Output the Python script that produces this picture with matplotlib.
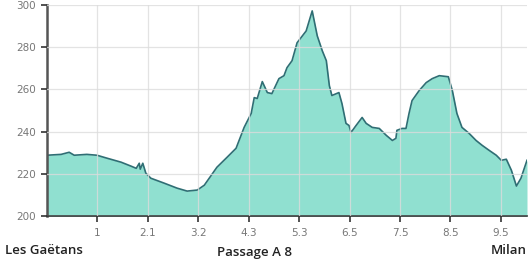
import matplotlib
matplotlib.use("Agg")
import matplotlib.pyplot as plt

# profile: x in tick units (0..9.5), elevation in m
pos = [0.00, 0.28, 0.44, 0.54, 0.79, 0.99, 1.19, 1.47, 1.67, 1.77, 1.83, 1.85,
       1.90, 1.96, 2.06, 2.32, 2.58, 2.78, 2.98, 3.12, 3.37, 3.57, 3.75, 3.91,
       4.05, 4.11, 4.17, 4.27, 4.37, 4.46, 4.60, 4.70, 4.76, 4.86, 4.96, 5.14,
       5.26, 5.36, 5.46, 5.54, 5.60, 5.65, 5.79, 5.85, 5.93, 5.99, 6.03, 6.13,
       6.25, 6.33, 6.45, 6.59, 6.73, 6.85, 6.92, 6.94, 7.04, 7.12, 7.18, 7.24,
       7.38, 7.52, 7.64, 7.78, 7.96, 8.04, 8.13, 8.23, 8.37, 8.51, 8.63, 8.77,
       8.91, 9.01, 9.11, 9.21, 9.31, 9.40, 9.52]
elev = [228.8, 229.2, 230.2, 228.8, 229.2, 228.8, 227.4, 225.5, 223.6, 222.6, 225.0, 222.2,
        225.0, 220.3, 217.9, 215.6, 213.2, 211.8, 212.3, 214.6, 223.1, 227.8, 232.1, 242.0,
        248.6, 256.1, 255.7, 263.7, 258.5, 258.0, 265.1, 266.5, 270.3, 273.6, 282.1, 287.7,
        297.2, 285.4, 278.3, 273.6, 261.8, 257.1, 258.5, 253.3, 243.9, 242.9, 239.6, 242.9,
        246.7, 243.9, 242.0, 241.5, 238.2, 235.8, 236.8, 240.6, 241.5, 241.5, 248.6, 254.7,
        259.4, 263.2, 265.1, 266.5, 266.0, 259.4, 248.6, 242.0, 239.2, 235.8, 233.5, 231.1,
        228.8, 226.4, 226.9, 221.7, 214.2, 217.9, 226.4]

tick_pos = [1, 2, 3, 4, 5, 6, 7, 8, 9]
tick_labels = ["1", "2.1", "3.2", "4.3", "5.3", "6.5", "7.5", "8.5", "9.5"]
y_ticks = [200, 220, 240, 260, 280, 300]

places = ["Les Gaëtans", "Passage A 8", "Milan"]

fig = plt.figure(figsize=(5.28, 2.59), dpi=100)
ax = fig.add_axes([47 / 528, 43 / 259, 480 / 528, 211 / 259])

ax.fill_between(pos, elev, 200, color="#90e0d0", lw=0)
ax.plot(pos, elev, color="#2f6e74", lw=1.2)

ax.set_xlim(0, 9.52)
ax.set_ylim(200, 300)
ax.set_xticks(tick_pos)
ax.set_xticklabels(tick_labels)
ax.set_yticks(y_ticks)
ax.grid(True, color="#dcdcdc", lw=0.9)
ax.set_axisbelow(False)
for gl in ax.get_xgridlines() + ax.get_ygridlines():
    gl.set_alpha(0.8)

for s in ["top", "right"]:
    ax.spines[s].set_visible(False)
ax.spines["left"].set_color("#555555")
ax.spines["left"].set_linewidth(1.8)
ax.spines["bottom"].set_color("#333333")
ax.spines["bottom"].set_linewidth(1.2)
ax.tick_params(axis="both", colors="#333333", labelcolor="#777777", labelsize=7.5,
               length=4, width=1.2, direction="out")
ax.tick_params(axis="x", pad=5)
ax.tick_params(axis="y", pad=4)

fig.text(5 / 528, 2 / 259, places[0], ha="left", va="bottom", fontsize=9.5,
         color="#222222", family="Open Sans", weight="semibold")
fig.text(255 / 528, 0 / 259, places[1], ha="center", va="bottom", fontsize=9.5,
         color="#222222", family="Open Sans", weight="semibold")
fig.text(527 / 528, 2 / 259, places[2], ha="right", va="bottom", fontsize=9.5,
         color="#222222", family="Open Sans", weight="semibold")

fig.savefig("out.png", dpi=100)
